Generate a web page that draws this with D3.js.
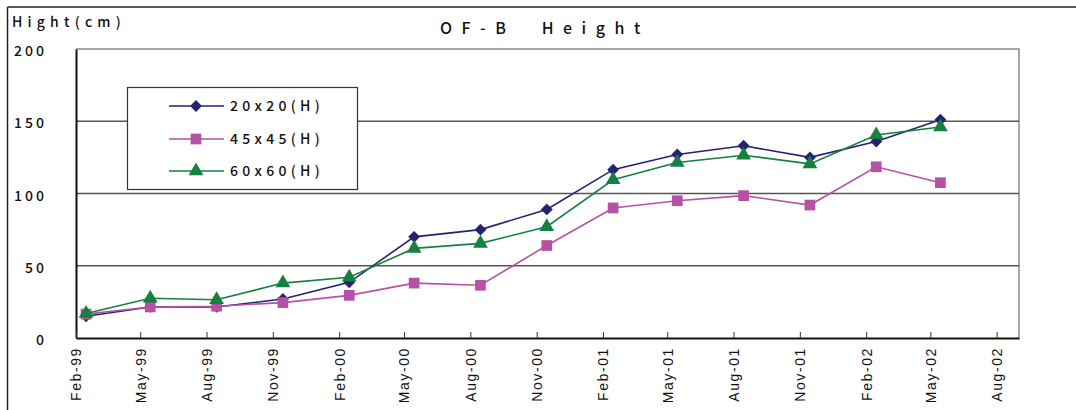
<!DOCTYPE html>
<html>
<head>
<meta charset="utf-8">
<script src="https://cdn.jsdelivr.net/npm/d3@7/dist/d3.min.js"></script>
<style>
  html, body { margin: 0; padding: 0; background: #fff; }
  svg { display: block; }
  .wide { font-family: "Noto Sans CJK JP", "DejaVu Sans", sans-serif; fill: #111; font-weight: 500; }
  .xlab { font-family: "Liberation Sans", Arial, sans-serif; font-size: 14px; fill: #111; letter-spacing: 1.6px; }
</style>
</head>
<body>
<svg id="chart" width="1076" height="410"></svg>
<script>
// Measurement dates (mid-month survey) and heights in cm
const dates = ["1999-02-15","1999-05-15","1999-08-15","1999-11-15","2000-02-15","2000-05-15","2000-08-15",
               "2000-11-15","2001-02-15","2001-05-15","2001-08-15","2001-11-15","2002-02-15","2002-05-15"];
const h20 = [15, 21.5, 21.5, 27, 38.5, 70, 75, 89, 116.5, 127, 133, 125, 136, 151];
const h45 = [16.5, 21.5, 22, 24.5, 29.5, 38, 36.5, 64, 90, 95, 98.5, 92, 118.5, 107.5];
const h60 = [17, 27.5, 26.5, 38, 42, 62, 65.5, 77, 109.5, 121.5, 126.5, 120.5, 140.5, 146];
const seriesNames = ["20x20(H)", "45x45(H)", "60x60(H)"];
const seriesColors = ["#23236f", "#b652a6", "#158040"];
const seriesShapes = ["diamond", "square", "triangle"];
const xTickLabels = ["Feb-99","May-99","Aug-99","Nov-99","Feb-00","May-00","Aug-00","Nov-00",
                     "Feb-01","May-01","Aug-01","Nov-01","Feb-02","May-02","Aug-02"];
const yTicks = [0, 50, 100, 150, 200];
const titleText = "OF-B  Height";
const yTitle = "Hight(cm)";

const svg = d3.select("#chart");
const W = 1076, H = 410;
const plot = { left: 76, top: 49, right: 1019, bottom: 338 };

const parse = d3.utcParse("%Y-%m-%d");
const x = d3.scaleUtc()
  .domain([Date.UTC(1999, 1, 1), Date.UTC(2002, 8, 1)])
  .range([plot.left, plot.right]);
const y = d3.scaleLinear().domain([0, 200]).range([plot.bottom, plot.top]);

// Outer frame lines
svg.append("line").attr("x1", 7.5).attr("x2", W).attr("y1", 7).attr("y2", 7)
  .attr("stroke", "#222").attr("stroke-width", 1.5);
svg.append("line").attr("x1", 7.5).attr("x2", 7.5).attr("y1", 7).attr("y2", H)
  .attr("stroke", "#222").attr("stroke-width", 1.5);

// Titles
svg.append("text").attr("class", "wide").attr("x", 12).attr("y", 27)
  .attr("font-size", 14).attr("letter-spacing", 5.2).text(yTitle);
svg.append("text").attr("class", "wide").attr("x", 440).attr("y", 34)
  .attr("font-size", 16).attr("font-weight", "bold").attr("letter-spacing", 9.5)
  .style("white-space", "pre").text(titleText);

// Plot frame (top/right in gray)
svg.append("path")
  .attr("d", `M${plot.left},${plot.top}H${plot.right}V${plot.bottom}`)
  .attr("fill", "none").attr("stroke", "#8a8a8a").attr("stroke-width", 1.5);

// Horizontal gridlines
svg.append("g").selectAll("line").data(yTicks.filter(v => v > 0 && v < 200)).join("line")
  .attr("x1", plot.left).attr("x2", plot.right)
  .attr("y1", d => y(d)).attr("y2", d => y(d))
  .attr("stroke", "#555").attr("stroke-width", 1.3);

// Y axis
const yAxis = svg.append("g").attr("transform", `translate(${plot.left},0)`)
  .call(d3.axisLeft(y).tickValues(yTicks).tickSize(0).tickFormat(""));
yAxis.select(".domain").attr("stroke", "#111").attr("stroke-width", 2);
svg.append("g").selectAll("text").data(yTicks).join("text")
  .attr("class", "wide").attr("font-size", 14).attr("letter-spacing", 3)
  .attr("text-anchor", "end").attr("x", 47).attr("y", d => y(d) + 7)
  .text(d => d);

// X axis with inward ticks
const tickDates = xTickLabels.map((_, i) => new Date(Date.UTC(1999, 1 + 3 * i, 1)));
const xAxis = svg.append("g").attr("transform", `translate(0,${plot.bottom})`)
  .call(d3.axisBottom(x).tickValues(tickDates).tickSizeInner(-6).tickSizeOuter(0)
    .tickFormat((d, i) => xTickLabels[i]));
xAxis.select(".domain").attr("stroke", "#111").attr("stroke-width", 2);
xAxis.selectAll(".tick line").attr("stroke", "#333").attr("stroke-width", 1);
xAxis.selectAll(".tick text")
  .attr("class", "xlab")
  .attr("transform", "rotate(-90)")
  .attr("text-anchor", "end")
  .attr("x", -9).attr("y", 0).attr("dy", "0.35em");

// Markers
const sym = {
  diamond: d3.symbol().type(d3.symbolDiamond2).size(90),
  square: d3.symbol().type(d3.symbolSquare).size(115),
  triangle: d3.symbol().type(d3.symbolTriangle).size(95)
};

const allSeries = [h20, h45, h60];
const line = d3.line().x(d => x(parse(d.date))).y(d => y(d.v));

allSeries.forEach((vals, si) => {
  const pts = vals.map((v, i) => ({ date: dates[i], v }));
  const g = svg.append("g");
  g.append("path").datum(pts).attr("d", line)
    .attr("fill", "none").attr("stroke", seriesColors[si]).attr("stroke-width", 1.6);
  g.selectAll("path.m").data(pts).join("path").attr("class", "m")
    .attr("transform", d => `translate(${x(parse(d.date))},${y(d.v)})`)
    .attr("d", sym[seriesShapes[si]]())
    .attr("fill", seriesColors[si]);
});

// Legend
const leg = svg.append("g");
leg.append("rect").attr("x", 127.5).attr("y", 87.5).attr("width", 230).attr("height", 102)
  .attr("fill", "#fff").attr("stroke", "#333").attr("stroke-width", 1.2);
const rowsY = [106, 139, 171];
seriesNames.forEach((name, i) => {
  leg.append("line").attr("x1", 169).attr("x2", 224).attr("y1", rowsY[i]).attr("y2", rowsY[i])
    .attr("stroke", seriesColors[i]).attr("stroke-width", 1.6);
  leg.append("path").attr("transform", `translate(196,${rowsY[i]})`)
    .attr("d", sym[seriesShapes[i]]()).attr("fill", seriesColors[i]);
  leg.append("text").attr("class", "wide").attr("x", 230).attr("y", rowsY[i] + 5)
    .attr("font-size", 14).attr("letter-spacing", 4.3).text(name);
});
</script>
</body>
</html>
